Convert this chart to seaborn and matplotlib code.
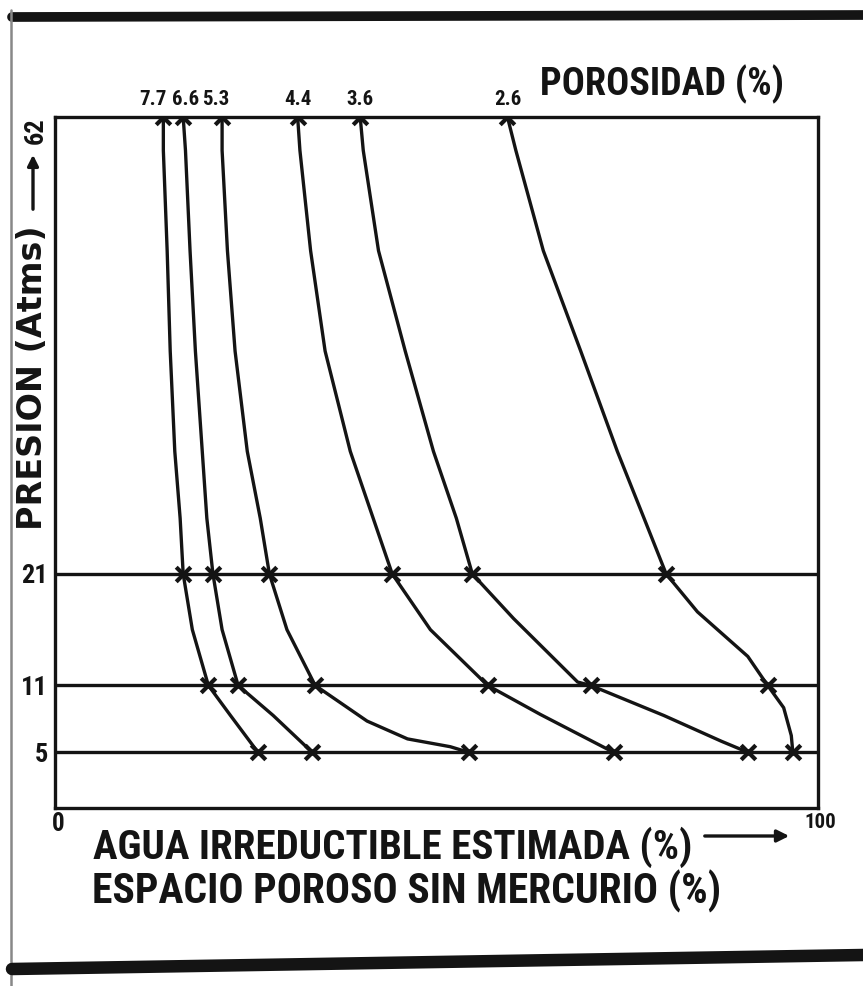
import matplotlib
matplotlib.use("Agg")
import matplotlib.pyplot as plt
import seaborn as sns
import pandas as pd
from matplotlib import font_manager
from matplotlib.lines import Line2D

# ---------------- data ----------------
porosidad = ["7.7", "6.6", "5.3", "4.4", "3.6", "2.6"]

presion_77 = [62, 59, 50, 41, 32, 26, 21, 16, 11, 8.3, 5]
agua_77 = [14.2, 14.2, 14.7, 15.1, 15.7, 16.4, 16.8, 18.0, 20.1, 23.0, 26.6]

presion_66 = [62, 59, 50, 41, 32, 26, 21, 16, 11, 8.3, 5]
agua_66 = [16.8, 17.1, 17.7, 18.4, 19.3, 19.9, 20.7, 21.9, 24.0, 28.6, 33.7]

presion_53 = [62, 59, 50, 41, 32, 26, 21, 16, 11, 7.8, 6.2, 5.5, 5]
agua_53 = [21.9, 21.9, 22.6, 23.6, 25.2, 26.9, 28.1, 30.4, 34.1, 40.9, 46.2, 51.8, 54.2]

presion_44 = [62, 59, 50, 41, 32, 26, 21, 16, 11, 8.4, 5]
agua_44 = [31.8, 32.1, 33.5, 35.4, 38.7, 41.7, 44.2, 49.2, 56.7, 63.6, 73.2]

presion_36 = [62, 59, 50, 41, 32, 26, 21, 17, 11.3, 11, 8.3, 6, 5]
agua_36 = [40.0, 40.4, 42.4, 45.9, 49.6, 52.6, 54.7, 60.1, 68.5, 70.2, 79.8, 87.3, 90.8]

presion_26 = [62, 59, 50, 41, 32, 26, 21, 17.6, 13.6, 11, 9, 6.5, 5]
agua_26 = [59.3, 60.4, 64.0, 68.9, 73.7, 77.2, 80.1, 84.2, 90.8, 93.4, 95.5, 96.5, 96.7]

niveles = [5, 11, 21, 62]          # pressure levels with marks / horizontal lines
niveles_etiquetas = ["5", "11", "21", "62"]

curvas = {
    "7.7": (presion_77, agua_77),
    "6.6": (presion_66, agua_66),
    "5.3": (presion_53, agua_53),
    "4.4": (presion_44, agua_44),
    "3.6": (presion_36, agua_36),
    "2.6": (presion_26, agua_26),
}

rows = []
for por in porosidad:
    pres, ag = curvas[por]
    for p, a in zip(pres, ag):
        rows.append({"porosidad": por, "presion": p, "agua": a})
df = pd.DataFrame(rows)
marcas = df[df["presion"].isin(niveles)]

# ---------------- style ----------------
sns.set_style("white")


def pick_font(cands):
    for fam in cands:
        try:
            font_manager.findfont(font_manager.FontProperties(family=fam), fallback_to_default=False)
            return fam
        except Exception:
            pass
    return "DejaVu Sans"


FONT = pick_font(["Liberation Sans Narrow", "Roboto Condensed", "Liberation Sans", "DejaVu Sans"])
plt.rcParams["font.family"] = [FONT, "DejaVu Sans"]
plt.rcParams["font.weight"] = "bold"
INK = "#141414"

W, H = 863, 986
fig = plt.figure(figsize=(W / 100, H / 100), dpi=100)
fig.patch.set_facecolor("white")


def fx(px):
    return px / W


def fy(py):
    return 1 - py / H


ax = fig.add_axes([fx(55), fy(808), (818 - 55) / W, (808 - 117) / H])
ax.set_facecolor("white")

# horizontal pressure lines
for lvl in niveles[:-1]:
    ax.axhline(lvl, color=INK, lw=2.4, zorder=1)

sns.lineplot(data=df, x="agua", y="presion", hue="porosidad",
             palette={p: INK for p in porosidad},
             estimator=None, sort=False, lw=2.4, legend=False, ax=ax, zorder=2,
             solid_joinstyle="round", solid_capstyle="round")

sns.scatterplot(data=marcas, x="agua", y="presion", marker="x", s=110,
                color=INK, linewidth=3, legend=False, ax=ax, zorder=3)

ax.set_xlim(0, 100)
ax.set_ylim(0, 62)
ax.set_xlabel("")
ax.set_ylabel("")
ax.set_xticks([])
ax.set_yticks(niveles)
ax.set_yticklabels(niveles_etiquetas, fontsize=19, fontweight="bold")
ax.get_yticklabels()[-1].set_rotation(90)
ax.get_yticklabels()[-1].set_verticalalignment("top")
ax.tick_params(axis="y", length=0, pad=5, colors=INK)
for s in ax.spines.values():
    s.set_visible(True)
    s.set_color(INK)
    s.set_linewidth(2.4)

# porosity labels above the top line
offsets = [-10, 2, -6, 0, 0, 0]
for por, off in zip(porosidad, offsets):
    pres, ag = curvas[por]
    ax.annotate(por, xy=(ag[0], 62), xytext=(off, 8), textcoords="offset pixels",
                ha="center", va="bottom", fontsize=15, fontweight="bold", color=INK)

fig.text(fx(540), fy(84), "POROSIDAD (%)", va="center", ha="left",
         fontsize=27.5, fontweight="bold", color=INK)

# x labels
fig.text(fx(93), fy(847), "AGUA IRREDUCTIBLE ESTIMADA (%)", va="center", ha="left",
         fontsize=29.5, fontweight="bold", color=INK)
fig.text(fx(92), fy(891), "ESPACIO POROSO SIN MERCURIO (%)", va="center", ha="left",
         fontsize=30, fontweight="bold", color=INK)
fig.add_artist(matplotlib.patches.FancyArrowPatch((fx(702), fy(836)), (fx(792), fy(836)),
                                                  transform=fig.transFigure, arrowstyle="-|>",
                                                  mutation_scale=18, lw=2.4, color=INK))
fig.text(fx(820), fy(822), "100", va="center", ha="center",
         fontsize=15, fontweight="bold", color=INK)
fig.text(fx(58), fy(824), "0", va="center", ha="center",
         fontsize=18, fontweight="bold", color=INK)

# y label
fig.text(fx(33), fy(530), "PRESION (Atms)", rotation=90, va="bottom", ha="center",
         fontsize=24, fontweight="bold", color=INK, family=["DejaVu Sans"])
fig.add_artist(matplotlib.patches.FancyArrowPatch((fx(33), fy(212)), (fx(33), fy(152)),
                                                  transform=fig.transFigure, arrowstyle="-|>",
                                                  mutation_scale=16, lw=2.4, color=INK))

# scanned page borders
fig.add_artist(Line2D([fx(12), 1], [fy(17), fy(15)], color=INK, lw=7,
                      transform=fig.transFigure))
fig.add_artist(Line2D([fx(11), fx(11)], [fy(10), 0], color="#888888", lw=1.8,
                      transform=fig.transFigure))
fig.add_artist(Line2D([fx(12), 1], [fy(969), fy(955)], color=INK, lw=9,
                      transform=fig.transFigure))

fig.savefig("out.png", dpi=100, facecolor="white")
